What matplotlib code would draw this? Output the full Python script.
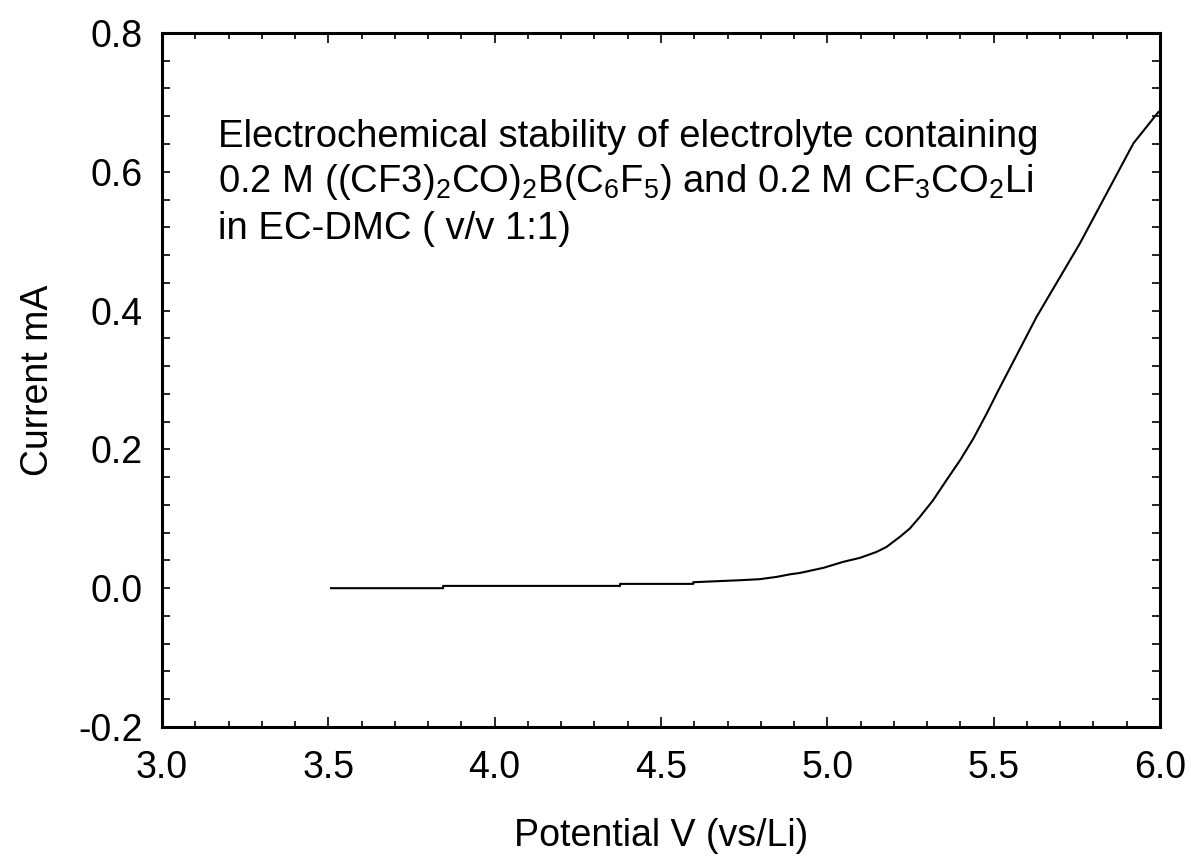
"""Linear sweep voltammetry: electrochemical stability window of the borate electrolyte."""

import matplotlib

matplotlib.use("Agg")
import matplotlib.pyplot as plt
from matplotlib.ticker import MultipleLocator, FormatStrFormatter

# values (V vs Li, mA)
potential_v = [
    3.508, 3.845, 3.845, 4.377, 4.377, 4.597, 4.597, 4.739, 4.797, 4.848,
    4.888, 4.918, 4.988, 5.048, 5.098, 5.148, 5.178, 5.218, 5.248, 5.278,
    5.318, 5.358, 5.399, 5.439, 5.479, 5.514, 5.629, 5.759, 5.920, 5.995,
]
current_ma = [
    0.0, 0.0, 0.0033, 0.0033, 0.0062, 0.0062, 0.0086, 0.0115, 0.013, 0.0163,
    0.020, 0.022, 0.0293, 0.038, 0.0437, 0.0523, 0.0595, 0.074, 0.086, 0.1027,
    0.1268, 0.1556, 0.1844, 0.2157, 0.2517, 0.285, 0.391, 0.4967, 0.641, 0.686,
]

note_lines = [
    "Electrochemical stability of electrolyte containing",
    r"0.2 M ((CF3)$_2$CO)$_2$B(C$_6$F$_5$) and 0.2 M CF$_3$CO$_2$Li",
    "in EC-DMC ( v/v 1:1)",
]

plt.rcParams["font.family"] = ["Liberation Sans", "DejaVu Sans"]
plt.rcParams["mathtext.fontset"] = "custom"
plt.rcParams["mathtext.rm"] = "Liberation Sans"
plt.rcParams["mathtext.it"] = "Liberation Sans"
plt.rcParams["font.size"] = 27

fig = plt.figure(figsize=(11.91, 8.63), dpi=100)
ax = fig.add_axes([0.136, 0.1576, 0.838, 0.8042])

ax.plot(potential_v, current_ma, color="black", lw=1.5)

ax.set_xlim(3.0, 6.0)
ax.set_ylim(-0.2, 0.8)
ax.xaxis.set_major_locator(MultipleLocator(0.5))
ax.xaxis.set_minor_locator(MultipleLocator(0.1))
ax.yaxis.set_major_locator(MultipleLocator(0.2))
ax.yaxis.set_minor_locator(MultipleLocator(0.04))
ax.xaxis.set_major_formatter(FormatStrFormatter("%.1f"))
ax.yaxis.set_major_formatter(FormatStrFormatter("%.1f"))

for s in ax.spines.values():
    s.set_linewidth(2.2)
ax.tick_params(axis="both", which="both", direction="in", top=True, right=True, width=1.2)
ax.tick_params(axis="x", which="major", length=7.5, pad=16.5)
ax.tick_params(axis="x", which="minor", length=4.5)
ax.tick_params(axis="y", which="both", length=5.5, pad=14)

ax.set_xlabel("Potential V (vs/Li)")
ax.set_ylabel("Current mA")
ax.xaxis.set_label_coords(0.5, -0.131)
ax.yaxis.set_label_coords(-0.106, 0.5)

note_y = [0.8357, 0.7709, 0.7032]
for line, y in zip(note_lines, note_y):
    ax.text(0.056, y, line, transform=ax.transAxes,
            ha="left", va="baseline", fontsize=27.5)

fig.savefig("out.png", dpi=100)
